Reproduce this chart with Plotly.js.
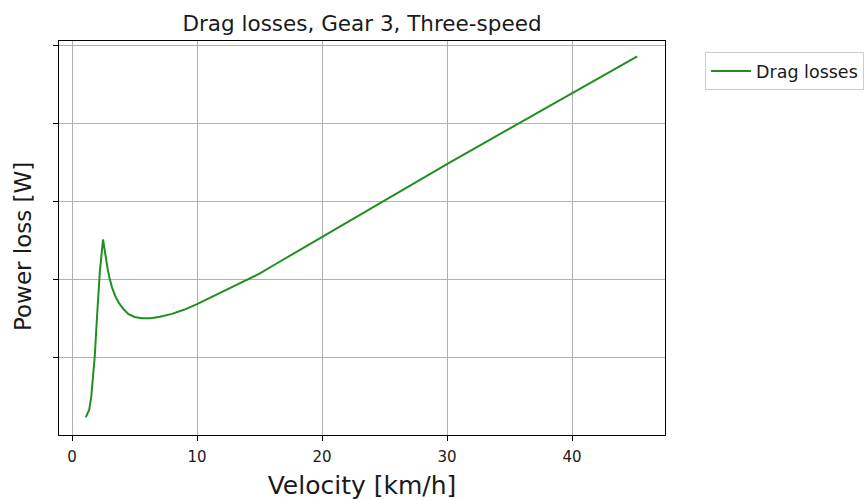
<!DOCTYPE html>
<html>
<head>
<meta charset="utf-8">
<script src="https://cdn.plot.ly/plotly-3.0.1.min.js"></script>
<style>
  html, body { margin: 0; padding: 0; background: #ffffff; }
  #chart { width: 868px; height: 500px; }
</style>
</head>
<body>
<div id="chart"></div>
<script>
// Velocity samples [km/h]
const velocity = [1.10, 1.38, 1.54, 1.68, 1.82, 2.02, 2.22, 2.48, 2.60, 2.72, 2.86,
  3.00, 3.20, 3.45, 3.75, 4.10, 4.50, 5.00, 5.60, 6.30, 7.04, 8.00, 9.00, 10.0,
  11.0, 12.0, 13.0, 14.0, 15.0, 16.2, 20.1, 25.0, 30.1, 35.0, 40.1, 45.22];

// Drag power loss [W] at each velocity sample
const dragLoss = [0.233, 0.33, 0.498, 0.713, 1.013, 1.571, 2.086, 2.514, 2.37, 2.25, 2.13,
  2.02, 1.90, 1.79, 1.70, 1.625, 1.56, 1.52, 1.503, 1.505, 1.522, 1.56, 1.615, 1.685,
  1.765, 1.845, 1.92, 2.00, 2.075, 2.19, 2.556, 3.018, 3.491, 3.937, 4.398, 4.864];

const xTicks = [0, 10, 20, 30, 40];
const yTicks = [1, 2, 3, 4, 5];

const FONT = 'DejaVu Sans, sans-serif';
const INK = '#1a1a1a';

const trace = {
  x: velocity,
  y: dragLoss,
  type: 'scatter',
  mode: 'lines',
  name: 'Drag losses',
  line: { color: '#1f8f1f', width: 2 }
};

const axisCommon = {
  showline: true,
  linecolor: '#000000',
  linewidth: 1,
  mirror: true,
  ticks: 'outside',
  ticklen: 5,
  tickwidth: 1,
  tickcolor: '#000000',
  showgrid: true,
  gridcolor: '#b0b0b0',
  gridwidth: 1,
  zeroline: false,
  automargin: false
};

const layout = {
  width: 868,
  height: 500,
  margin: { l: 59, r: 203, t: 41, b: 65, autoexpand: false },
  paper_bgcolor: '#ffffff',
  plot_bgcolor: '#ffffff',
  font: { family: FONT, color: INK },
  title: {
    text: 'Drag losses, Gear 3, Three-speed',
    font: { family: FONT, size: 21.5, color: INK },
    xref: 'paper', x: 0.5, xanchor: 'center',
    yref: 'container', y: 1 - 23 / 500, yanchor: 'middle'
  },
  xaxis: Object.assign({}, axisCommon, {
    range: [-1.04, 47.44],
    tickvals: xTicks,
    ticktext: xTicks.map(String),
    ticklabelstandoff: 3,
    tickfont: { family: FONT, size: 15, color: INK },
    title: { text: 'Velocity [km/h]', font: { family: FONT, size: 25, color: INK }, standoff: 13 }
  }),
  yaxis: Object.assign({}, axisCommon, {
    range: [0.006, 5.06],
    tickvals: yTicks,
    showticklabels: false
  }),
  annotations: [{
    text: 'Power loss [W]',
    textangle: -90,
    xref: 'paper', x: -59 / 606, xanchor: 'left',
    yref: 'paper', y: (435 - 247) / 394, yanchor: 'middle',
    xshift: 8,
    showarrow: false,
    font: { family: FONT, size: 23, color: INK }
  }],
  showlegend: true,
  legend: {
    xref: 'container', x: 705 / 868, xanchor: 'left',
    yref: 'container', y: 1 - 52 / 500, yanchor: 'top',
    bgcolor: '#ffffff',
    bordercolor: '#cccccc',
    borderwidth: 1,
    itemwidth: 40,
    font: { family: FONT, size: 17.5, color: INK }
  }
};

Plotly.newPlot('chart', [trace], layout, { displayModeBar: false, staticPlot: true });
</script>
</body>
</html>
